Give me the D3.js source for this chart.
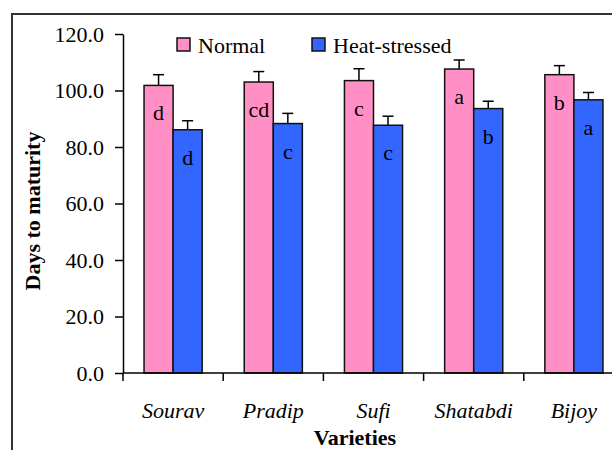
<!DOCTYPE html>
<html lang="en">
<head>
  <meta charset="UTF-8">
  <title>Days to maturity</title>
  <style>
    body { margin: 0; background: #fff; }
    svg text { font-family: "Liberation Serif", "Times New Roman", serif; fill: #000; }
  </style>
</head>
<body>
  <div id="chart"></div>
  <script src="https://cdn.jsdelivr.net/npm/d3@7"></script>
  <script>
    // varieties and their means / errors
    var varieties = ['Sourav', 'Pradip', 'Sufi', 'Shatabdi', 'Bijoy'];
    var series = ['Normal', 'Heat-stressed'];
    var normal = [101.8, 103.0, 103.5, 107.6, 105.6];
    var normalErr = [3.8, 3.7, 4.2, 3.2, 3.2];
    var heat = [86.1, 88.3, 87.7, 93.6, 96.7];
    var heatErr = [3.2, 3.6, 3.2, 2.6, 2.6];
    var normalLetters = ['d', 'cd', 'c', 'a', 'b'];
    var heatLetters = ['d', 'c', 'c', 'b', 'a'];
    var yTicks = [0, 20, 40, 60, 80, 100, 120];

    var colors = { 'Normal': '#ff8fc4', 'Heat-stressed': '#3366ff' };

    var W = 612, H = 450;
    var svg = d3.select('#chart').append('svg')
      .attr('width', W).attr('height', H);

    // outer frame (runs off the right and bottom)
    svg.append('rect')
      .attr('x', 12).attr('y', 14)
      .attr('width', 700).attr('height', 500)
      .attr('fill', 'none').attr('stroke', '#333').attr('stroke-width', 2);

    var x0 = d3.scaleBand().domain(varieties).range([123, 624]).padding(0);
    var x1 = d3.scaleBand().domain(series)
      .range([x0.bandwidth() * 0.21, x0.bandwidth() * 0.79]).padding(0);
    var y = d3.scaleLinear().domain([0, 120]).range([373, 34]);

    var rows = varieties.map(function(v, i) {
      return [
        { cat: v, s: 'Normal', val: normal[i], err: normalErr[i], lab: normalLetters[i] },
        { cat: v, s: 'Heat-stressed', val: heat[i], err: heatErr[i], lab: heatLetters[i] }
      ];
    });
    var flat = [].concat.apply([], rows);

    // y axis
    var yAxis = d3.axisLeft(y).tickValues(yTicks).tickFormat(d3.format('.1f'))
      .tickSize(8).tickSizeOuter(0).tickPadding(11);
    var gy = svg.append('g').attr('transform', 'translate(123,0)').call(yAxis);
    gy.selectAll('text').style('font-size', '22px').attr('font-family', null);
    gy.selectAll('line, path').attr('stroke', '#000').attr('stroke-width', 1.5);

    // error bars (upper only, they sit behind the bar)
    var eb = svg.append('g').selectAll('g').data(flat).enter().append('g');
    eb.append('line')
      .attr('x1', function(d) { return x0(d.cat) + x1(d.s) + x1.bandwidth() / 2; })
      .attr('x2', function(d) { return x0(d.cat) + x1(d.s) + x1.bandwidth() / 2; })
      .attr('y1', function(d) { return y(d.val); })
      .attr('y2', function(d) { return y(d.val + d.err); })
      .attr('stroke', '#000').attr('stroke-width', 1.5);
    eb.append('line')
      .attr('x1', function(d) { return x0(d.cat) + x1(d.s) + x1.bandwidth() / 2 - 5.5; })
      .attr('x2', function(d) { return x0(d.cat) + x1(d.s) + x1.bandwidth() / 2 + 5.5; })
      .attr('y1', function(d) { return y(d.val + d.err); })
      .attr('y2', function(d) { return y(d.val + d.err); })
      .attr('stroke', '#000').attr('stroke-width', 1.5);

    // bars
    svg.append('g').selectAll('rect').data(flat).enter().append('rect')
      .attr('x', function(d) { return x0(d.cat) + x1(d.s); })
      .attr('y', function(d) { return y(d.val); })
      .attr('width', x1.bandwidth())
      .attr('height', function(d) { return y(0) - y(d.val); })
      .attr('fill', function(d) { return colors[d.s]; })
      .attr('stroke', '#111').attr('stroke-width', 1.5);

    // significance letters
    svg.append('g').selectAll('text').data(flat).enter().append('text')
      .attr('x', function(d) { return x0(d.cat) + x1(d.s) + x1.bandwidth() / 2; })
      .attr('y', function(d) { return y(d.val) + 35; })
      .attr('text-anchor', 'middle')
      .style('font-size', '22px')
      .text(function(d) { return d.lab; });

    // x axis with ticks at category edges
    var base = svg.append('g');
    base.append('line')
      .attr('x1', 123).attr('x2', 624)
      .attr('y1', y(0)).attr('y2', y(0))
      .attr('stroke', '#000').attr('stroke-width', 1.5);
    var edges = varieties.map(function(v) { return x0(v); }).concat([x0.range()[1]]);
    base.selectAll('line.tick').data(edges).enter().append('line')
      .attr('class', 'tick')
      .attr('x1', function(d) { return d; }).attr('x2', function(d) { return d; })
      .attr('y1', y(0)).attr('y2', y(0) + 8)
      .attr('stroke', '#000').attr('stroke-width', 1.5);
    base.selectAll('text').data(varieties).enter().append('text')
      .attr('x', function(d) { return x0(d) + x0.bandwidth() / 2; })
      .attr('y', 418)
      .attr('text-anchor', 'middle')
      .style('font-size', '22px').style('font-style', 'italic')
      .text(function(d) { return d; });

    // axis titles
    svg.append('text')
      .attr('x', 355).attr('y', 445)
      .attr('text-anchor', 'middle')
      .style('font-size', '22px').style('font-weight', 'bold')
      .text('Varieties');
    svg.append('text')
      .attr('transform', 'translate(40,211) rotate(-90)')
      .attr('text-anchor', 'middle')
      .style('font-size', '22px').style('font-weight', 'bold')
      .text('Days to maturity');

    // legend
    var legX = [177, 312];
    var leg = svg.append('g').selectAll('g').data(series).enter().append('g')
      .attr('transform', function(d, i) { return 'translate(' + legX[i] + ',38)'; });
    leg.append('rect')
      .attr('width', 13).attr('height', 13)
      .attr('fill', function(d) { return colors[d]; })
      .attr('stroke', '#111').attr('stroke-width', 1.5);
    leg.append('text')
      .attr('x', 21).attr('y', 15)
      .style('font-size', '22px')
      .text(function(d) { return d; });
  </script>
</body>
</html>
